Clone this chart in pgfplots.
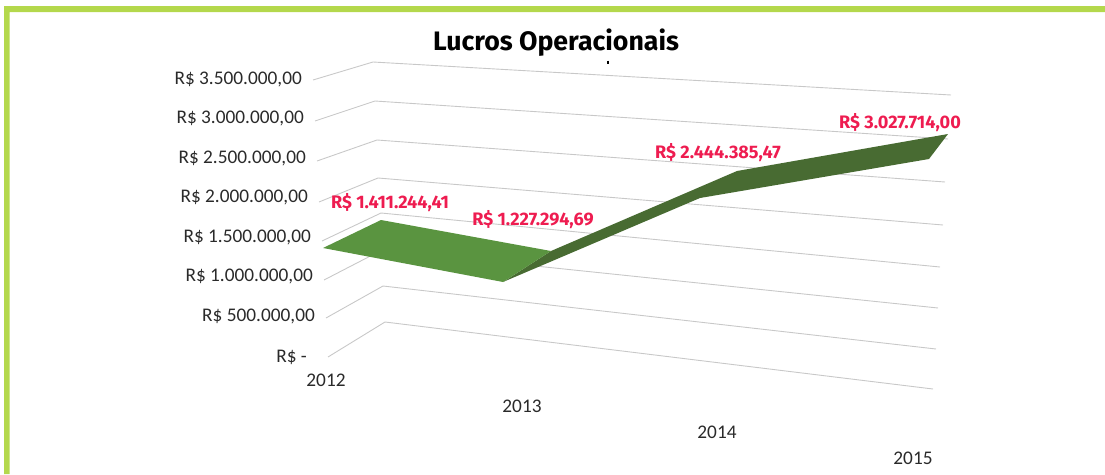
\documentclass[border=0pt]{standalone}
\usepackage{pgfplots}
\pgfplotsset{compat=1.18}
\usepackage{fontspec}
\setmainfont{Carlito}
\newfontfamily\fira{Fira Sans}
\definecolor{framegreen}{HTML}{B4D84C}
\definecolor{lightgreen}{HTML}{5A9440}
\definecolor{darkgreen}{HTML}{486B32}
\definecolor{gridgray}{HTML}{C8C8C8}
\definecolor{labelred}{HTML}{EE1C50}
\definecolor{axtext}{HTML}{2A2A2A}
\tikzset{
  tick lab/.style={font=\fontsize{19.3}{20}\selectfont, text=axtext, anchor=east, inner sep=0pt},
  year lab/.style={font=\fontsize{19.3}{20}\selectfont, text=axtext, inner sep=0pt},
  val lab/.style={font=\fira\bfseries\fontsize{18.1}{20}\selectfont, text=labelred, inner sep=0pt},
}
\begin{document}
\begin{tikzpicture}
\begin{axis}[
  scale only axis, width=1105pt, height=474pt,
  xmin=0, xmax=1105, ymin=0, ymax=474, y dir=reverse,
  hide axis, clip=false,
]
\path (axis cs:0,0) rectangle (axis cs:1105,474);
% frame
\addplot[draw=none, fill=framegreen, forget plot] coordinates {(4,474) (4,6) (1105,6) (1105,12) (9.5,12) (9.5,474)} -- cycle;
% gridlines (front, back corner, right end)
\addplot[gridgray, line width=0.9pt] coordinates {(313,80) (373,62) (951,95)};
\addplot[gridgray, line width=0.9pt] coordinates {(315,121) (375,101) (948,139)};
\addplot[gridgray, line width=0.9pt] coordinates {(317,161) (377,140) (945,182)};
\addplot[gridgray, line width=0.9pt] coordinates {(319,202) (378,178) (943,225)};
\addplot[gridgray, line width=0.9pt] coordinates {(322,241) (381,213) (940,267)};
\addplot[gridgray, line width=0.9pt] coordinates {(324,280) (382,250) (938,308)};
\addplot[gridgray, line width=0.9pt] coordinates {(326,318) (383,286) (936,349)};
\addplot[gridgray, line width=0.9pt] coordinates {(328,357) (385,322) (933,389)};
% ribbon
\addplot[draw=none, fill=darkgreen] coordinates {(503,282) (551,251) (737,171) (948,134) (929,159) (700,198)} -- cycle;
\addplot[draw=none, fill=lightgreen] coordinates {(323,248) (381,220) (551,251) (503,282)} -- cycle;
% stray dot under the title
\addplot[black, line width=2.4pt] coordinates {(608,60.5) (608,63.5)};
% title
\node[font=\fira\bfseries\fontsize{26.7}{30}\selectfont, text=black, inner sep=0pt] at (axis cs:556,42.5) {Lucros Operacionais};
% value axis labels
\node[tick lab] at (axis cs:302,79.5) {R\$ 3.500.000,00};
\node[tick lab] at (axis cs:304,118.5) {R\$ 3.000.000,00};
\node[tick lab] at (axis cs:306,158.5) {R\$ 2.500.000,00};
\node[tick lab] at (axis cs:308,197.5) {R\$ 2.000.000,00};
\node[tick lab] at (axis cs:311,237.5) {R\$ 1.500.000,00};
\node[tick lab] at (axis cs:313,276.5) {R\$ 1.000.000,00};
\node[tick lab] at (axis cs:315,316.5) {R\$ 500.000,00};
\node[tick lab] at (axis cs:307,357.5) {R\$ -};
% years
\node[year lab] at (axis cs:326,380.5) {2012};
\node[year lab] at (axis cs:522,406.5) {2013};
\node[year lab] at (axis cs:717,432.5) {2014};
\node[year lab] at (axis cs:913,458.5) {2015};
% value labels
\node[val lab] at (axis cs:390,203) {R\$ 1.411.244,41};
\node[val lab] at (axis cs:533,220) {R\$ 1.227.294,69};
\node[val lab] at (axis cs:718,153) {R\$ 2.444.385,47};
\node[val lab] at (axis cs:900,123) {R\$ 3.027.714,00};
\end{axis}
\end{tikzpicture}
\end{document}
